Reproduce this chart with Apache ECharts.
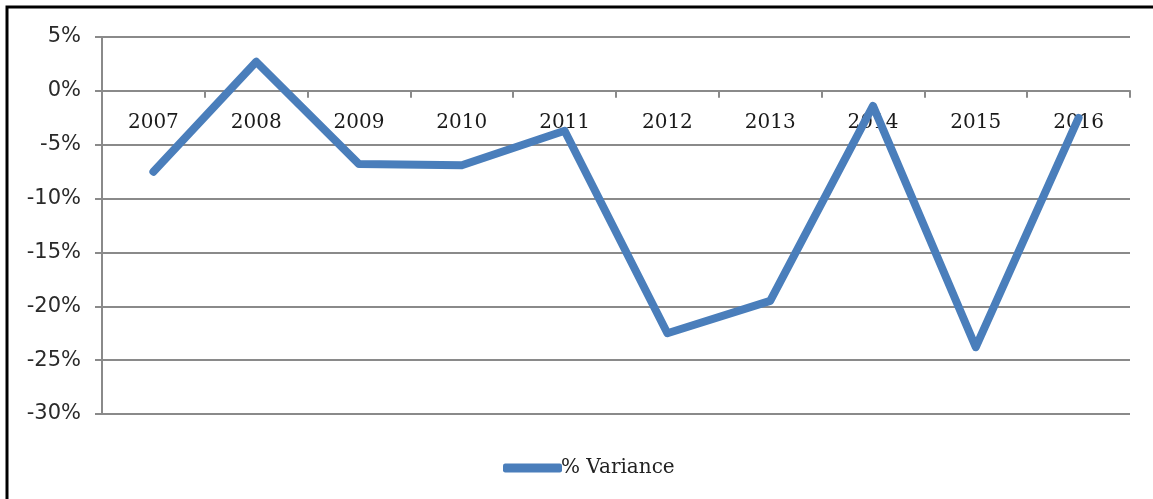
<!DOCTYPE html>
<html>
<head>
<meta charset="utf-8">
<script src="https://cdn.jsdelivr.net/npm/echarts@6/dist/echarts.min.js"></script>
<style>
  html, body { margin: 0; padding: 0; background: #fff; }
  #chart { width: 1153px; height: 499px; }
</style>
</head>
<body>
<div id="chart"></div>
<script>
// Yearly percentage variance
const years = ['2007', '2008', '2009', '2010', '2011', '2012', '2013', '2014', '2015', '2016'];
const variance = [-7.5, 2.7, -6.8, -6.9, -3.7, -22.5, -19.5, -1.4, -23.8, -2.5];
const seriesName = '% Variance';

const yMin = -30;
const yMax = 5;

const lineColor = '#4a7ebb';
const gridColor = '#8a8a8a';

const gridTop = 37;
const gridBottom = 85;
const chartHeight = 499;

// place the category axis on the zero line, keeping its labels just below it
const plotHeight = chartHeight - gridTop - gridBottom;
const zeroFromBottom = (0 - yMin) / (yMax - yMin) * plotHeight;

const chart = echarts.init(document.getElementById('chart'));

chart.setOption({
  animation: false,
  backgroundColor: '#fff',
  graphic: [{
    // outer frame around the chart area
    type: 'rect',
    shape: { x: 7, y: 7, width: 1200, height: 600 },
    style: { fill: 'none', stroke: '#000', lineWidth: 3 },
    z: 100
  }],
  grid: { left: 102, right: 23, top: gridTop, bottom: gridBottom, containLabel: false },
  legend: {
    left: 498,
    top: 453,
    itemWidth: 59,
    itemHeight: 9,
    itemGap: 10,
    data: [{ name: seriesName, icon: 'roundRect', itemStyle: { color: lineColor } }],
    textStyle: { fontFamily: 'DejaVu Serif', fontSize: 20, color: '#222', padding: [0, 0, 0, -6] }
  },
  xAxis: {
    type: 'category',
    data: years,
    boundaryGap: true,
    position: 'bottom',
    offset: -zeroFromBottom,
    axisLine: { onZero: false, lineStyle: { color: gridColor, width: 2 } },
    axisTick: { show: true, alignWithLabel: false, length: 7, lineStyle: { color: gridColor, width: 2 } },
    axisLabel: { margin: 22, fontFamily: 'DejaVu Serif', fontSize: 20, color: '#1a1a1a', interval: 0 },
    splitLine: { show: false }
  },
  yAxis: {
    type: 'value',
    min: yMin,
    max: yMax,
    interval: 5,
    axisLine: { show: true, lineStyle: { color: gridColor, width: 2 } },
    axisTick: { show: true, length: 7, lineStyle: { color: gridColor, width: 2 } },
    axisLabel: { formatter: '{value}%', margin: 21, fontFamily: 'DejaVu Sans', fontSize: 21, color: '#2a2a2a' },
    splitLine: { show: true, lineStyle: { color: gridColor, width: 2 } }
  },
  series: [{
    name: seriesName,
    type: 'line',
    data: variance,
    showSymbol: false,
    smooth: false,
    lineStyle: { color: lineColor, width: 8, cap: 'round', join: 'round' },
    itemStyle: { color: lineColor },
    z: 5
  }]
});
</script>
</body>
</html>
